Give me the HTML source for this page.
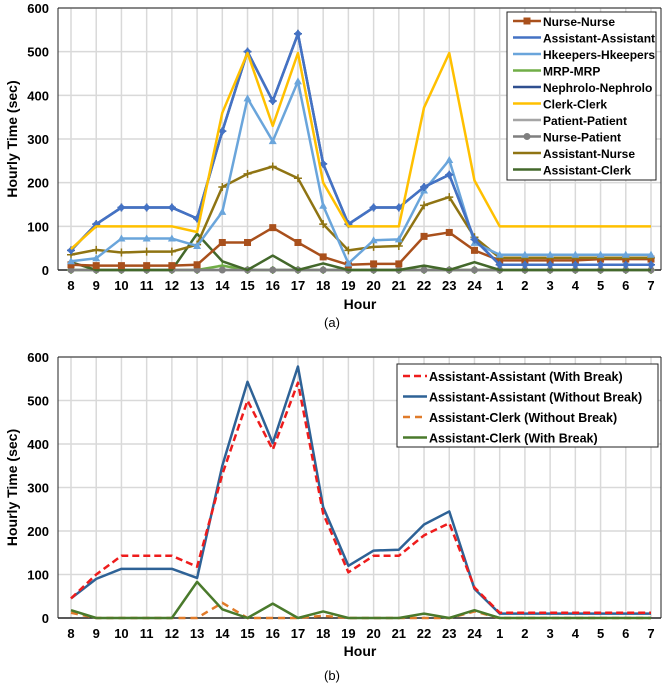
<!DOCTYPE html>
<html><head><meta charset="utf-8"><style>
body{margin:0;background:#fff;font-family:"Liberation Sans",sans-serif}
svg text{font-family:"Liberation Sans",sans-serif}
</style></head><body>
<svg id="s" width="665" height="686" xmlns="http://www.w3.org/2000/svg"></svg>
<script>
const hours=["8","9","10","11","12","13","14","15","16","17","18","19","20","21","22","23","24","1","2","3","4","5","6","7"];
const yTicks=[0,100,200,300,400,500,600];
const nurseNurse=[12,10,10,10,10,12,63,63,97,63,30,12,14,14,77,86,45,22,22,22,22,25,25,25];
const asstAsst=[45,105,143,143,143,118,318,500,387,541,243,105,143,143,190,218,70,12,12,12,12,12,12,12];
const hkeepers=[20,27,72,72,72,55,133,393,295,432,147,15,68,70,182,252,62,35,35,35,35,35,35,35];
const mrp=[0,0,0,0,0,0,10,0,0,0,0,0,0,0,0,0,0,0,0,0,0,0,0,0];
const nephrolo=[45,105,143,143,143,118,318,500,387,541,243,105,143,143,190,218,70,12,12,12,12,12,12,12];
const clerk=[48,100,100,100,100,87,360,497,330,497,200,100,100,100,372,497,205,100,100,100,100,100,100,100];
const patient=[0,0,0,0,0,0,0,0,0,0,0,0,0,0,0,0,0,0,0,0,0,0,0,0];
const nursePatient=[0,0,0,0,0,0,0,0,0,0,0,0,0,0,0,0,0,0,0,0,0,0,0,0];
const asstNurse=[35,46,40,42,42,58,190,220,237,210,105,45,53,55,148,167,75,28,28,28,28,28,28,28];
const asstClerk=[18,0,0,0,0,83,20,0,33,0,15,0,0,0,10,0,18,0,0,0,0,0,0,0];
const aaWith=[45,100,143,143,143,118,330,500,387,541,240,105,143,143,190,218,70,12,12,12,12,12,12,12];
const aaWithout=[45,90,113,113,113,92,350,543,402,578,255,120,155,157,215,245,67,10,10,10,10,10,10,10];
const acWithout=[12,0,0,0,0,0,35,0,0,0,5,0,0,0,0,0,15,0,0,0,0,0,0,0];
const acWith=[18,0,0,0,0,83,20,0,33,0,15,0,0,0,10,0,18,0,0,0,0,0,0,0];

const NS="http://www.w3.org/2000/svg";const svg=document.getElementById('s');
function mk(t,a,p){const e=document.createElementNS(NS,t);for(const k in a)e.setAttribute(k,a[k]);(p||svg).appendChild(e);return e;}
function chart(top,bottom,series,legend,lg,label,hourY,labY,name){
  const g=mk('g',{});
  
  
  const x0=71,x1=651,L=58,R=661;
  const xs=i=>x0+i*(x1-x0)/(hours.length-1);
  const ys=v=>bottom-(v/600)*(bottom-top);
  hours.forEach((h,i)=>{mk('line',{x1:xs(i),x2:xs(i),y1:top,y2:bottom,stroke:'#d9d9d9','stroke-width':1.5},g);
    const t=mk('text',{x:xs(i),y:bottom+20,'text-anchor':'middle','font-size':13,'font-weight':'bold'},g);t.textContent=h;
    });
  yTicks.forEach(v=>{if(v>0)mk('line',{x1:L,x2:R,y1:ys(v),y2:ys(v),stroke:'#d9d9d9','stroke-width':1.5},g);
    const t=mk('text',{x:L-9,y:ys(v)+5,'text-anchor':'end','font-size':13,'font-weight':'bold'},g);t.textContent=v;
    });
  mk('line',{x1:L,x2:R,y1:top,y2:top,stroke:'#222','stroke-width':1},g);
  mk('line',{x1:L,x2:L,y1:top,y2:bottom,stroke:'#222','stroke-width':1},g);
  mk('line',{x1:R,x2:R,y1:top,y2:bottom,stroke:'#222','stroke-width':1},g);
  mk('line',{x1:L,x2:R,y1:bottom,y2:bottom,stroke:'#222','stroke-width':1.5},g);
  series.forEach(s=>{
    const p=mk('polyline',{points:s.d.map((v,i)=>xs(i)+','+ys(v)).join(' '),fill:'none',stroke:s.c,'stroke-width':s.w||2.5,'stroke-dasharray':s.dash||'','stroke-linejoin':'round'},g);
    
    if(s.m)s.d.forEach((v,i)=>{let m;
      if(s.m=='sq')m=mk('rect',{x:xs(i)-3.5,y:ys(v)-3.5,width:7,height:7,fill:s.c},g);
      else if(s.m=='c')m=mk('circle',{cx:xs(i),cy:ys(v),r:3.5,fill:s.c},g);
      else if(s.m=='d')m=mk('path',{d:`M${xs(i)} ${ys(v)-4}l4 4l-4 4l-4-4z`,fill:s.c},g);
      else if(s.m=='t')m=mk('path',{d:`M${xs(i)} ${ys(v)-4}l4 7h-8z`,fill:s.c},g);
      else if(s.m=='p')m=mk('path',{d:`M${xs(i)-4} ${ys(v)}h8M${xs(i)} ${ys(v)-4}v8`,stroke:s.c,'stroke-width':1.5},g);
      });
  });
  const lgR=mk('rect',{x:lg.x,y:lg.y,width:lg.w,height:lg.h,fill:'#fff',stroke:'#222','stroke-width':1},g);
  
  legend.forEach((s,i)=>{const y=lg.y+lg.pad+i*lg.step;
    mk('line',{x1:lg.x+6,x2:lg.x+lg.sw,y1:y,y2:y,stroke:s.c,'stroke-width':2.5,'stroke-dasharray':s.dash||''},g);
    if(s.m=='sq')mk('rect',{x:lg.x+6+(lg.sw-6)/2-3.5,y:y-3.5,width:7,height:7,fill:s.c},g);
    if(s.m=='c')mk('circle',{cx:lg.x+6+(lg.sw-6)/2,cy:y,r:3.5,fill:s.c},g);
    const t=mk('text',{x:lg.x+lg.sw+2,y:y+5,'font-size':lg.fs,'font-weight':'bold'},g);t.textContent=s.n;
    });
  const yt=mk('text',{x:0,y:0,transform:`translate(17,${(top+bottom)/2}) rotate(-90)`,'text-anchor':'middle','font-size':14,'font-weight':'bold'},g);yt.textContent='Hourly Time (sec)';
  
  const xt=mk('text',{x:360,y:hourY,'text-anchor':'middle','font-size':14,'font-weight':'bold'},g);xt.textContent='Hour';
  
  const lb=mk('text',{x:332,y:labY,'text-anchor':'middle','font-size':13,'font-family':'Liberation Serif'},g);lb.textContent=label;
  
}
const A=[
 {id:'patient',n:'Patient-Patient',d:patient,c:'#a5a5a5'},
 {id:'mrp',n:'MRP-MRP',d:mrp,c:'#70ad47',m:'p'},
 {id:'nurse-patient',n:'Nurse-Patient',d:nursePatient,c:'#7f7f7f',m:'c'},
 {id:'asst-clerk',n:'Assistant-Clerk',d:asstClerk,c:'#43682b'},
 {id:'nurse-nurse',n:'Nurse-Nurse',d:nurseNurse,c:'#a9501c',m:'sq'},
 {id:'asst-nurse',n:'Assistant-Nurse',d:asstNurse,c:'#8f7413',m:'p'},
 {id:'hkeepers',n:'Hkeepers-Hkeepers',d:hkeepers,c:'#6aa5db',m:'t'},
 {id:'nephrolo',n:'Nephrolo-Nephrolo',d:nephrolo,c:'#2f4f8f',m:'p'},
 {id:'asst-asst',n:'Assistant-Assistant',d:asstAsst,c:'#4472c4',m:'d'},
 {id:'clerk',n:'Clerk-Clerk',d:clerk,c:'#ffc000'}];
const order=['nurse-nurse','asst-asst','hkeepers','mrp','nephrolo','clerk','patient','nurse-patient','asst-nurse','asst-clerk'];
chart(8,270,A,order.map(id=>A.find(s=>s.id==id)),{x:507,y:12,w:149,h:168,pad:9,step:16.5,sw:34,fs:12},'(a)',309,327,'chart-a');
const B=[
 {id:'ac-without',n:'Assistant-Clerk (Without Break)',d:acWithout,c:'#e07b2a',dash:'7 5'},
 {id:'ac-with',n:'Assistant-Clerk (With Break)',d:acWith,c:'#4a7a2c'},
 {id:'aa-without',n:'Assistant-Assistant (Without Break)',d:aaWithout,c:'#2e6296'},
 {id:'aa-with',n:'Assistant-Assistant (With Break)',d:aaWith,c:'#ee1c1c',dash:'7 4'}];
chart(357,618,B,[B[3],B[2],B[0],B[1]],{x:397,y:364,w:261,h:83,pad:12,step:20.5,sw:30,fs:12.5},'(b)',656,680,'chart-b');
</script>
</body></html>
